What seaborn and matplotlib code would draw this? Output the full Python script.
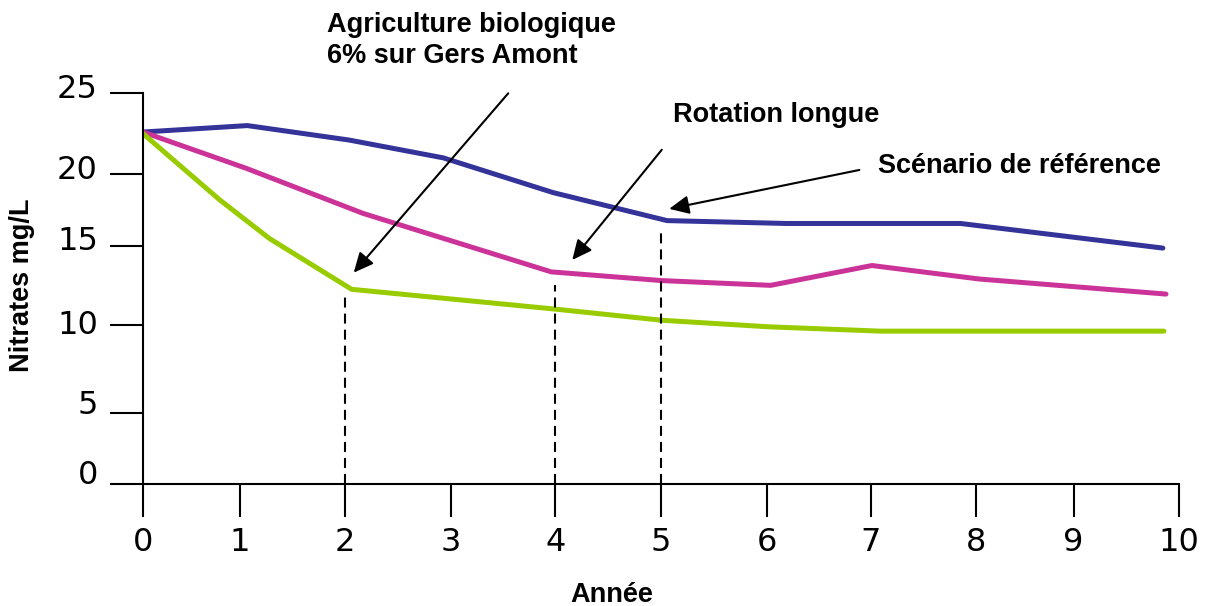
import numpy as np
import pandas as pd
import matplotlib
matplotlib.use('Agg')
import matplotlib.pyplot as plt
import matplotlib.transforms as mtransforms
import seaborn as sns

# values (Année -> Nitrates mg/L)
ref_years = [0, 1.07, 2.04, 2.93, 3.98, 5.06, 6.19, 7.85, 9.85]
ref_values = [22.6, 23.0, 22.1, 21.0, 18.7, 16.75, 16.55, 16.55, 14.85]
rot_years = [0, 1.06, 2.17, 3.96, 5.01, 6.04, 7.01, 8.03, 9.88]
rot_values = [22.6, 20.35, 17.25, 13.35, 12.8, 12.5, 13.75, 12.9, 11.95]
bio_years = [0, 0.79, 1.28, 2.06, 4.0, 5.01, 6.01, 7.09, 9.86]
bio_values = [22.5, 18.2, 15.5, 12.25, 11.0, 10.3, 9.9, 9.65, 9.65]

# years marked by a dashed drop line and the level each one reaches
drop_years = [2, 4, 5]
drop_levels = [12.0, 12.5, 16.2]

x_ticks = list(range(11))
y_ticks = [0, 5, 10, 15, 20, 25]

# the original axes are not evenly spaced: where each tick sits (px)
x_tick_pos = [0, 97, 202.3, 307.6, 412.4, 517.7, 623.5, 727.8, 833.3, 930.5, 1035.6]
y_tick_pos = [0, 71.6, 159.3, 238.6, 310.3, 391]
# small hand-placed shifts of the y tick labels (px, upward)
y_label_shift = [12, 11, 3, 8, 7, 7]

# annotation arrows: (tail, head) in data units
arrows = [
    ((3.55, 25.0), (2.08, 13.3)),
    ((5.01, 21.5), (4.16, 14.1)),
    ((6.89, 20.25), (5.08, 17.57)),
]

colors = {'Scénario de référence': '#333399',
          'Rotation longue': '#cc3399',
          'Agriculture biologique': '#99cc00'}

df = pd.concat([
    pd.DataFrame({'Année': ref_years, 'Nitrates': ref_values, 'scenario': 'Scénario de référence'}),
    pd.DataFrame({'Année': rot_years, 'Nitrates': rot_values, 'scenario': 'Rotation longue'}),
    pd.DataFrame({'Année': bio_years, 'Nitrates': bio_values, 'scenario': 'Agriculture biologique'}),
], ignore_index=True)

sns.set_style('ticks')
plt.rcParams['font.family'] = 'DejaVu Sans'

W, H = 1210, 606
fig = plt.figure(figsize=(W / 100, H / 100), dpi=100)
ax = fig.add_axes([143 / W, 1 - 484.3 / H, 1035.6 / W, 391 / H])

ax.set_xscale('function', functions=(lambda v: np.interp(v, x_ticks, x_tick_pos),
                                     lambda u: np.interp(u, x_tick_pos, x_ticks)))
ax.set_yscale('function', functions=(lambda v: np.interp(v, y_ticks, y_tick_pos),
                                     lambda u: np.interp(u, y_tick_pos, y_ticks)))

sns.lineplot(data=df, x='Année', y='Nitrates', hue='scenario', palette=colors,
             estimator=None, sort=False, lw=3.6, legend=False, ax=ax)

for yr, lvl in zip(drop_years, drop_levels):
    ax.plot([yr, yr], [0, lvl], color='black', lw=1.5, ls=(0, (4.8, 2.9)))

for tail, head in arrows:
    ax.annotate('', xy=head, xytext=tail, annotation_clip=False,
                arrowprops=dict(arrowstyle='-|>,head_length=0.6,head_width=0.28',
                                mutation_scale=20, lw=1.5, color='black',
                                shrinkA=0, shrinkB=0))

ax.set_xlim(0, 10)
ax.set_ylim(0, 25)
ax.set_xticks(x_ticks)
ax.set_yticks(y_ticks)
ax.set_xticklabels([str(t) for t in x_ticks])
ax.set_yticklabels([str(t) for t in y_ticks])
ax.set_xlabel('')
ax.set_ylabel('')
ax.spines[['top', 'right']].set_visible(False)
for s in ['left', 'bottom']:
    ax.spines[s].set_linewidth(1.5)
    ax.spines[s].set_color('black')
ax.tick_params(axis='both', length=23.5, width=1.5, color='black',
               labelsize=23, labelcolor='black')
ax.tick_params(axis='x', pad=7)
ax.tick_params(axis='y', pad=9)
for lab, off in zip(ax.get_yticklabels(), y_label_shift):
    lab.set_transform(lab.get_transform() +
                      mtransforms.ScaledTranslation(0, off / 100, fig.dpi_scale_trans))

bold = dict(family='Liberation Sans', fontweight='bold', fontsize=19.5, color='black')
fig.text(327 / W, 1 - 31.7 / H, 'Agriculture biologique', va='baseline', **bold)
fig.text(327 / W, 1 - 63.3 / H, '6% sur Gers Amont', va='baseline', **bold)
fig.text(673 / W, 1 - 121.7 / H, 'Rotation longue', va='baseline', **bold)
fig.text(878 / W, 1 - 173.3 / H, 'Scénario de référence', va='baseline', **bold)
fig.text(612 / W, 1 - 601.5 / H, 'Année', ha='center', va='baseline', **bold)
fig.text(22 / W, 1 - 285 / H, 'Nitrates mg/L', ha='center', va='center', rotation=90, **bold)

fig.savefig('out.png', dpi=100)
